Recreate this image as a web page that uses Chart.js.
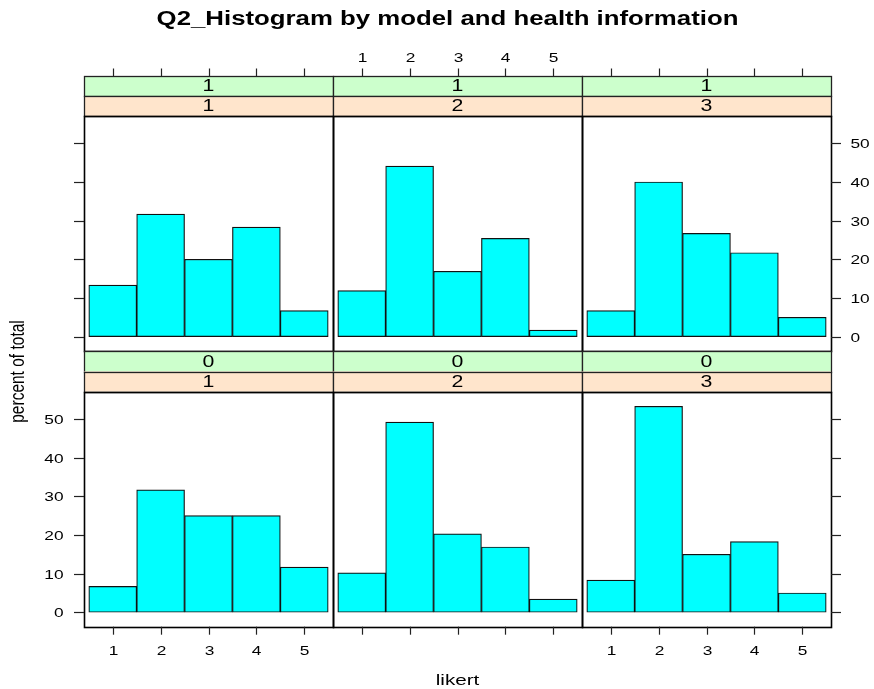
<!DOCTYPE html>
<html>
<head>
<meta charset="utf-8">
<title>Q2_Histogram by model and health information</title>
<script src="https://cdn.jsdelivr.net/npm/chart.js@4.4.1/dist/chart.umd.min.js"></script>
<style>
  html, body { margin: 0; padding: 0; background: #fff; }
  #stage { position: relative; width: 874px; height: 689px; }
  #stage canvas { position: absolute; left: 0; top: 0; }
</style>
</head>
<body>
<div id="stage"></div>
<script>
// likert answers and the two conditioning factors
const likertLevels = [1, 2, 3, 4, 5];
const modelLevels = ['1', '2', '3'];
const healthLevels = ['1', '0'];          // upper row, lower row
const percentTicks = [0, 10, 20, 30, 40, 50];

// percent of total for each likert level
const health1Model1 = [13.3, 31.7, 20.0, 28.3, 6.7];
const health1Model2 = [11.9, 44.1, 16.9, 25.4, 1.7];
const health1Model3 = [6.7, 40.0, 26.7, 21.7, 5.0];
const health0Model1 = [6.7, 31.7, 25.0, 25.0, 11.7];
const health0Model2 = [10.2, 49.2, 20.3, 16.9, 3.4];
const health0Model3 = [8.3, 53.3, 15.0, 18.3, 5.0];

const chartTitle = 'Q2_Histogram by model and health information';
const xTitle = 'likert';
const yTitle = 'percent of total';

// page layout
const W = 874, H = 689;
const colEdges = [84, 333, 582, 831];
const rowBoxes = [
    { stripTop: 76, stripMid: 96, panelTop: 116, panelBottom: 351 },
    { stripTop: 351, stripMid: 371.5, panelTop: 391.7, panelBottom: 626.7 }
];
const X_RANGE = [0.4, 5.6];
const Y_RANGE = [-3.73, 57.07];
const STRETCH = 1.33;   // lettering is drawn a bit wider than the font
const FONT = '"Liberation Sans", Arial, sans-serif';
const INK = '#000';

const crisp = v => Math.round(v) + 0.5;

function wideText(ctx, text, x, y, align) {
    ctx.save();
    ctx.translate(x, y);
    ctx.scale(STRETCH, 1);
    ctx.textAlign = align;
    ctx.fillText(text, 0, 0);
    ctx.restore();
}

function line(ctx, x0, y0, x1, y1) {
    ctx.beginPath();
    ctx.moveTo(x0, y0);
    ctx.lineTo(x1, y1);
    ctx.stroke();
}

function drawStrip(ctx, x0, x1, y0, y1, fill, label) {
    ctx.fillStyle = fill;
    ctx.fillRect(x0, y0, x1 - x0, y1 - y0);
    ctx.strokeStyle = '#222';
    ctx.lineWidth = 1.3;
    ctx.strokeRect(crisp(x0), crisp(y0), Math.round(x1) - Math.round(x0), Math.round(y1) - Math.round(y0));
    ctx.fillStyle = INK;
    ctx.font = '16px ' + FONT;
    ctx.textBaseline = 'middle';
    wideText(ctx, label, (x0 + x1) / 2, (y0 + y1) / 2 + 1, 'center');
}

// strips, frame and the alternating lattice axes of one panel
const latticePanel = {
    id: 'latticePanel',
    afterDatasetsDraw(chart, args, opts) {
        const ctx = chart.ctx;
        const { left, right, top, bottom } = chart.chartArea;
        const xs = chart.scales.x;
        const ys = chart.scales.y;
        const box = rowBoxes[opts.row];

        ctx.save();
        drawStrip(ctx, left, right, box.stripTop, box.stripMid, '#ccffcc', opts.health);
        drawStrip(ctx, left, right, box.stripMid, top, '#ffe5cc', opts.model);

        ctx.strokeStyle = INK;
        ctx.lineWidth = 1.6;
        ctx.strokeRect(crisp(left), crisp(top), Math.round(right) - Math.round(left), Math.round(bottom) - Math.round(top));

        ctx.strokeStyle = '#222';
        ctx.lineWidth = 1.2;
        ctx.fillStyle = INK;
        ctx.font = '13px ' + FONT;
        ctx.textBaseline = 'alphabetic';

        // likert axis: above the strips on the upper row, below the panel on the lower row
        likertLevels.forEach(v => {
            const px = crisp(xs.getPixelForValue(v));
            if (opts.row === 0) {
                line(ctx, px, box.stripTop - 7.5, px, box.stripTop);
                if (opts.col === 1) wideText(ctx, String(v), px, 61.5, 'center');
            } else {
                line(ctx, px, bottom, px, bottom + 8);
                if (opts.col !== 1) wideText(ctx, String(v), px, 655, 'center');
            }
        });

        // percent axis on the outer columns
        ctx.textBaseline = 'middle';
        percentTicks.forEach(v => {
            const py = crisp(ys.getPixelForValue(v));
            if (opts.col === 0) {
                line(ctx, left - 10, py, left, py);
                if (opts.row === 1) wideText(ctx, String(v), 63.5, py + 1, 'right');
            } else if (opts.col === 2) {
                line(ctx, right, py, right + 10, py);
                if (opts.row === 0) wideText(ctx, String(v), 850.5, py + 1, 'left');
            }
        });
        ctx.restore();
    },
    afterDraw(chart, args, opts) {
        if (!opts.decorate) return;
        const ctx = chart.ctx;
        ctx.save();
        ctx.fillStyle = INK;
        ctx.textBaseline = 'alphabetic';
        ctx.font = 'bold 19.4px ' + FONT;
        wideText(ctx, chartTitle, 447.5, 25, 'center');
        ctx.font = '15.5px ' + FONT;
        wideText(ctx, xTitle, 457.5, 684.5, 'center');
        ctx.translate(24, 371.5);
        ctx.scale(STRETCH, 1);
        ctx.rotate(-Math.PI / 2);
        ctx.textAlign = 'center';
        ctx.fillText(yTitle, 0, 0);
        ctx.restore();
    }
};

const panels = [
    { row: 0, col: 0, values: health1Model1 },
    { row: 0, col: 1, values: health1Model2 },
    { row: 0, col: 2, values: health1Model3 },
    { row: 1, col: 0, values: health0Model1 },
    { row: 1, col: 1, values: health0Model2 },
    { row: 1, col: 2, values: health0Model3 }
];

const stage = document.getElementById('stage');

panels.forEach((p, i) => {
    const canvas = document.createElement('canvas');
    canvas.width = W;
    canvas.height = H;
    stage.appendChild(canvas);
    const box = rowBoxes[p.row];

    new Chart(canvas, {
        type: 'bar',
        data: {
            datasets: [{
                data: likertLevels.map((v, k) => ({ x: v, y: p.values[k] })),
                backgroundColor: '#00ffff',
                borderColor: '#111',
                borderWidth: 1.2,
                borderSkipped: false,
                barPercentage: 1,
                categoryPercentage: 1
            }]
        },
        options: {
            responsive: false,
            animation: false,
            devicePixelRatio: 1,
            layout: {
                padding: {
                    left: colEdges[p.col],
                    right: W - colEdges[p.col + 1],
                    top: box.panelTop,
                    bottom: H - box.panelBottom
                }
            },
            scales: {
                x: {
                    type: 'linear',
                    display: false,
                    offset: false,
                    min: X_RANGE[0],
                    max: X_RANGE[1],
                    afterBuildTicks: axis => {
                        axis.ticks = likertLevels.map(v => ({ value: v }));
                    }
                },
                y: {
                    type: 'linear',
                    display: false,
                    min: Y_RANGE[0],
                    max: Y_RANGE[1]
                }
            },
            plugins: {
                legend: { display: false },
                tooltip: { enabled: false },
                latticePanel: {
                    row: p.row,
                    col: p.col,
                    health: healthLevels[p.row],
                    model: modelLevels[p.col],
                    decorate: i === 0
                }
            }
        },
        plugins: [latticePanel]
    });
});
</script>
</body>
</html>
